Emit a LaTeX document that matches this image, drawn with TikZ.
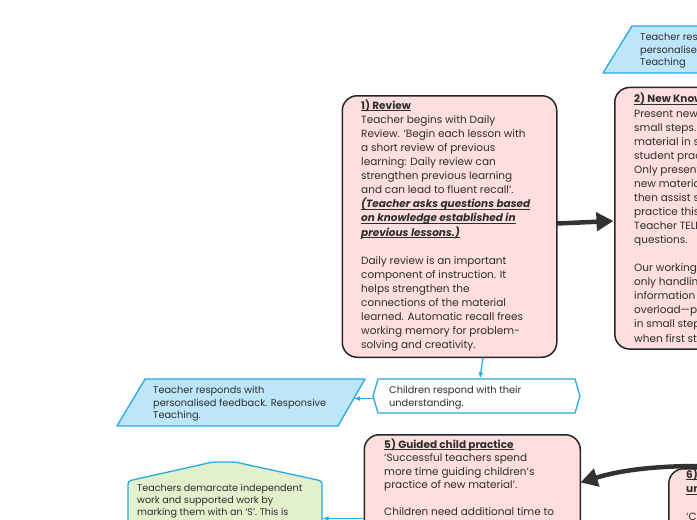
\documentclass[tikz,border=0pt]{standalone}
\usepackage{fontspec}
\setmainfont{Poppins}
\usetikzlibrary{arrows.meta,calc}
\definecolor{pinkfill}{RGB}{255,222,222}
\definecolor{boxline}{RGB}{38,38,38}
\definecolor{bluefill}{RGB}{189,230,250}
\definecolor{blueline}{RGB}{41,168,228}
\definecolor{greenfill}{RGB}{226,240,204}
\definecolor{arrowgray}{RGB}{50,50,50}
\definecolor{textgray}{RGB}{45,45,45}
\newcommand{\myul}[1]{{\setbox0\hbox{#1}\rlap{\rule[-1.7pt]{\wd0}{0.75pt}}\box0}}
\begin{document}
\begin{tikzpicture}[x=1pt,y=-1pt,
  pinkbox/.style={draw=boxline,fill=pinkfill,line width=1.5pt,rounded corners=15pt,inner sep=0pt,anchor=north west},
  bluepoly/.style={draw=blueline,fill=bluefill,line width=1.3pt,line join=round},
  whitepoly/.style={draw=blueline,fill=white,line width=1.3pt,line join=round},
  greenpoly/.style={draw=blueline,fill=greenfill,line width=1.3pt,rounded corners=3pt},
  maintxt/.style={align=left,inner sep=0pt,anchor=base west,text=textgray,font=\fontsize{10.5}{14.06}\selectfont},
  smalltxt/.style={align=left,inner sep=0pt,anchor=base west,text=textgray,font=\fontsize{9.8}{12.5}\selectfont},
  bigarrow/.style={draw=arrowgray,line width=4.5pt,-{Triangle[length=17pt,width=18pt]}},
  bluearrow/.style={draw=blueline,line width=1.3pt,-{Latex[length=6pt,width=5pt]}}
]
\useasboundingbox (0,0) rectangle (697,520);
\fill[white] (0,0) rectangle (697,520);
\clip (0,0) rectangle (697,520);

% top right parallelogram (anchor = baseline of last line)
\draw[bluepoly] (603,73) -- (632,26) -- (720,26) -- (720,73) -- cycle;
\node[smalltxt] (toptxt) at (640,65.5) {Teacher responds with\\personalised feedback. Responsive\\Teaching};

% 1) Review
\node[pinkbox,minimum width=214.5pt,minimum height=261.5pt] (review) at (341.5,95) {};
\node[maintxt] (reviewtxt) at (361,348.5) {\myul{\textbf{1) Review}}\\
Teacher begins with Daily\\
Review. ‘Begin each lesson with\\
a short review of previous\\
learning: Daily review can\\
strengthen previous learning\\
and can lead to fluent recall’.\\
\myul{\textbf{\textit{(Teacher asks questions based}}}\\
\myul{\textbf{\textit{on knowledge established in}}}\\
\myul{\textbf{\textit{previous lessons.)}}}\\
\mbox{}\\
Daily review is an important\\
component of instruction. It\\
helps strengthen the\\
connections of the material\\
learned. Automatic recall frees\\
working memory for problem-\\
solving and creativity.};

% 2) New Knowledge
\node[pinkbox,minimum width=220pt,minimum height=261.6pt] (newk) at (614,86.7) {};
\node[maintxt] (newktxt) at (634,342) {\myul{\textbf{2) New Knowledge}}\\
Present new material using\\
small steps. Present new\\
material in small steps with\\
student practice after each step.\\
Only present small amounts of\\
new material at any time, and\\
then assist students as they\\
practice this material.\\
Teacher TELLS and asks\\
questions.\\
\mbox{}\\
Our working memory is small,\\
only handling a few bits of\\
information at once. Avoid its\\
overload—present new material\\
in small steps and proceed only\\
when first steps are mastered.};

% Children respond
\draw[whitepoly] (373,396) -- (378,379) -- (575,379) -- (580,396) -- (575,413) -- (378,413) -- cycle;
\node[smalltxt] (childtxt) at (389,406) {Children respond with their\\understanding.};

% Teacher responds (left)
\draw[bluepoly] (117,426) -- (145,379) -- (365,379) -- (338,426) -- cycle;
\node[smalltxt] (teachtxt) at (153,418.5) {Teacher responds with\\personalised feedback. Responsive\\Teaching.};

% green box
\draw[greenpoly] (128,540) -- (128,481) -- (213,462) -- (235,462) -- (322,481) -- (322,540) -- cycle;
\node[smalltxt,font=\fontsize{9.6}{12}\selectfont] (greentxt) at (137,515) {Teachers demarcate independent\\work and supported work by\\marking them with an ‘S’. This is};

% 5) Guided child practice
\node[pinkbox,minimum width=216pt,minimum height=200pt] (guided) at (363.5,434) {};
\node[maintxt,font=\fontsize{10.5}{13.5}\selectfont] (guidedtxt) at (384,515.5) {\myul{\textbf{5) Guided child practice}}\\
‘Successful teachers spend\\
more time guiding children’s\\
practice of new material’.\\
\mbox{}\\
Children need additional time to};

% 6) box
\node[pinkbox,minimum width=200pt,minimum height=200pt] (check) at (668,468) {};
\node[maintxt] (checktxt) at (686,520.7) {\myul{\textbf{6) Check for student}}\\
\myul{\textbf{understanding}}\\
\mbox{}\\
‘Checking for student understanding};

% connector coordinates
\coordinate (rv-e) at (557,223.5);
\coordinate (nk-w) at (613.5,221);
\coordinate (rv-s) at (483,357.5);
\coordinate (ch-n) at (480,378.5);
\coordinate (ch-w) at (373.5,398.5);
\coordinate (tp-e) at (354,398.5);
\coordinate (ck-n) at (700,466);
\coordinate (gd-e) at (580.5,482.5);
\coordinate (gd-w) at (363.5,518.5);
\coordinate (gr-e) at (322.5,518.5);

\draw[bigarrow] (rv-e) -- (nk-w);
\draw[bigarrow] (ck-n) .. controls (650,466) and (618,471) .. (gd-e);
\draw[bluearrow] (rv-s) -- (ch-n);
\draw[bluearrow] (ch-w) -- (tp-e);
\draw[bluearrow] (gd-w) -- (gr-e);
\end{tikzpicture}
\end{document}
